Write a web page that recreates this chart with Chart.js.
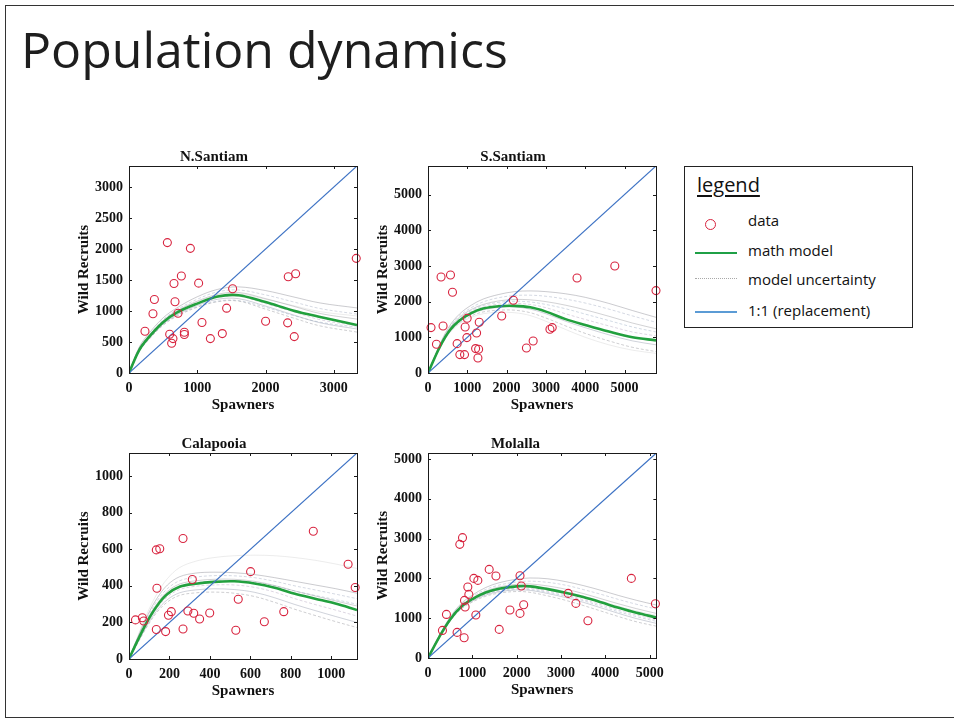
<!DOCTYPE html>
<html>
<head>
<meta charset="utf-8">
<script src="https://cdn.jsdelivr.net/npm/chart.js@4.4.0/dist/chart.umd.min.js"></script>
<style>
  html, body { margin:0; padding:0; background:#fff; width:954px; height:723px; overflow:hidden; position:relative; }
  #frame { position:absolute; left:5px; top:5px; width:980px; height:713px; box-sizing:border-box;
           border-left:1.5px solid #333; border-top:1.5px solid #333; border-bottom:1.5px solid #333; }
  #title { position:absolute; left:21px; top:15px; font-family:"Open Sans", sans-serif; font-size:50px;
           color:#1e1e1e; white-space:nowrap; line-height:normal; }
  #legend { position:absolute; left:684px; top:166px; width:229px; height:162px; box-sizing:border-box;
            border:1.5px solid #222; }
  .lt { position:absolute; font-family:"Open Sans", sans-serif; color:#111; white-space:nowrap; line-height:1; }
  .mk { position:absolute; }
</style>
</head>
<body>
<div id="frame"></div>
<div id="title">Population dynamics</div>

<div id="legend"></div>
<div class="lt" style="left:697px; top:175px; font-size:20px; text-decoration:underline; text-underline-offset:3px;">legend</div>
<div class="mk" style="left:705px; top:219px; width:9px; height:9px; border:1.3px solid #d8243f; border-radius:50%;"></div>
<div class="lt" style="left:748px; top:213px; font-size:15px;">data</div>
<div class="mk" style="left:695px; top:252px; width:42px; height:0; border-top:2.2px solid #1fa046;"></div>
<div class="lt" style="left:748px; top:243px; font-size:15px;">math model</div>
<div class="mk" style="left:695px; top:278px; width:42px; height:0; border-top:1px dotted #a8a8a8;"></div>
<div class="lt" style="left:748px; top:272px; font-size:15px;">model uncertainty</div>
<div class="mk" style="left:695px; top:311px; width:42px; height:0; border-top:2px solid #5b9bd5;"></div>
<div class="lt" style="left:748px; top:303px; font-size:15px;">1:1 (replacement)</div>

<script>
// ---------------- DATA ----------------
// N.Santiam
const nsSpawners = [562, 899, 3329, 2441, 2333, 767, 659, 1020, 1518, 372, 674, 351, 718, 1430, 1069, 2001, 2324, 234, 596, 811, 811, 644, 625, 1192, 1367, 2421];
const nsRecruits = [2104, 2011, 1850, 1602, 1553, 1564, 1445, 1450, 1359, 1186, 1149, 955, 965, 1046, 814, 835, 809, 673, 625, 657, 620, 555, 479, 555, 636, 587];
const nsModelX = [0, 150, 300, 500, 700, 1000, 1300, 1600, 2000, 2400, 2800, 3340];
const nsModel  = [0, 370, 590, 820, 975, 1120, 1235, 1255, 1145, 1010, 905, 775];
const nsUnc1 = [0, 420, 650, 890, 1050, 1230, 1350, 1390, 1330, 1230, 1130, 1050];
const nsUnc2 = [0, 400, 620, 860, 1020, 1190, 1310, 1340, 1260, 1150, 1040, 950];
const nsUnc3 = [0, 390, 605, 840, 1000, 1160, 1270, 1300, 1200, 1080, 960, 870];
const nsUnc4 = [0, 370, 580, 810, 960, 1120, 1220, 1240, 1120, 990, 860, 760];
const nsUnc5 = [0, 360, 565, 790, 940, 1090, 1190, 1200, 1080, 940, 810, 710];
const nsUnc6 = [0, 345, 550, 770, 915, 1060, 1150, 1160, 1030, 890, 760, 660];
const nsUnc7 = [0, 400, 615, 850, 1000, 1150, 1250, 1280, 1190, 1090, 990, 920];
const nsUnc8 = [0, 355, 560, 780, 930, 1070, 1160, 1170, 1060, 930, 820, 740];
const nsTicks = [0, 500, 1000, 1500, 2000, 2500, 3000];
const nsXTicks = [0, 1000, 2000, 3000];

// S.Santiam
const ssSpawners = [77, 332, 572, 623, 383, 215, 741, 810, 929, 996, 945, 989, 1303, 1236, 1211, 1288, 1270, 1875, 2172, 2504, 2675, 3102, 3160, 3791, 4752, 5800];
const ssRecruits = [1272, 2691, 2747, 2262, 1318, 804, 823, 515, 515, 1533, 1290, 992, 1421, 1121, 684, 664, 420, 1598, 2037, 701, 897, 1225, 1272, 2663, 3000, 2309];
const ssModelX = [0, 300, 550, 800, 1100, 1400, 1800, 2200, 2600, 3000, 3500, 4000, 4600, 5200, 5800];
const ssModel  = [0, 729, 1190, 1470, 1680, 1805, 1870, 1880, 1840, 1720, 1510, 1345, 1160, 1000, 915];
const ssUnc1 = [0, 800, 1320, 1650, 1900, 2070, 2200, 2280, 2300, 2280, 2220, 2120, 1950, 1750, 1560];
const ssUnc2 = [0, 780, 1280, 1600, 1830, 1990, 2110, 2170, 2180, 2150, 2070, 1960, 1790, 1600, 1420];
const ssUnc3 = [0, 760, 1250, 1560, 1780, 1920, 2020, 2060, 2050, 2000, 1900, 1770, 1590, 1400, 1240];
const ssUnc4 = [0, 740, 1210, 1500, 1720, 1850, 1930, 1950, 1920, 1830, 1660, 1500, 1320, 1150, 1040];
const ssUnc5 = [0, 715, 1170, 1450, 1650, 1770, 1840, 1850, 1790, 1660, 1450, 1270, 1070, 900, 790];
const ssUnc6 = [0, 700, 1140, 1410, 1600, 1710, 1760, 1760, 1690, 1540, 1320, 1110, 900, 720, 600];
const ssUnc7 = [0, 690, 1120, 1380, 1560, 1660, 1700, 1690, 1610, 1450, 1220, 1000, 790, 640, 550];
const ssUnc8 = [0, 750, 1230, 1530, 1750, 1890, 1980, 2010, 1990, 1920, 1800, 1650, 1470, 1290, 1150];
const ssTicks = [0, 1000, 2000, 3000, 4000, 5000];
const ssXTicks = [0, 1000, 2000, 3000, 4000, 5000];

// Calapooia
const caSpawners = [267, 135, 152, 911, 1083, 1118, 601, 313, 138, 540, 32, 66, 73, 209, 195, 291, 320, 349, 399, 135, 181, 267, 528, 669, 765];
const caRecruits = [659, 597, 603, 699, 518, 391, 478, 435, 387, 327, 214, 226, 208, 259, 239, 263, 250, 219, 252, 161, 150, 164, 157, 204, 259];
const caModelX = [0, 40, 90, 140, 190, 250, 330, 420, 520, 620, 720, 820, 920, 1020, 1127];
const caModel  = [0, 95, 205, 293, 355, 395, 412, 422, 425, 413, 390, 357, 330, 303, 268];
const caUnc1 = [0, 110, 235, 335, 405, 450, 470, 475, 472, 462, 445, 425, 405, 385, 360];
const caUnc2 = [0, 105, 225, 320, 385, 428, 448, 456, 455, 445, 425, 400, 378, 355, 330];
const caUnc3 = [0, 100, 215, 305, 370, 410, 428, 436, 436, 425, 402, 372, 345, 318, 290];
const caUnc4 = [0, 90, 195, 280, 340, 380, 398, 405, 405, 392, 366, 330, 298, 268, 235];
const caUnc5 = [0, 85, 185, 268, 325, 362, 378, 384, 380, 365, 335, 298, 265, 233, 200];
const caUnc6 = [0, 80, 178, 258, 312, 348, 362, 366, 360, 342, 310, 272, 238, 205, 172];
const caUnc7 = [0, 115, 250, 360, 440, 500, 535, 555, 565, 568, 565, 555, 540, 520, 495];
const caUnc8 = [0, 95, 205, 295, 360, 400, 418, 426, 428, 420, 400, 372, 348, 325, 300];
const caTicks = [0, 200, 400, 600, 800, 1000];
const caXTicks = [0, 200, 400, 600, 800, 1000];

// Molalla
const moSpawners = [778, 717, 1380, 1532, 1034, 1124, 2075, 4586, 898, 921, 823, 837, 2104, 3161, 3335, 5129, 416, 1079, 2158, 1848, 2075, 3606, 326, 656, 815, 1606];
const moRecruits = [3023, 2855, 2226, 2060, 2000, 1950, 2068, 2000, 1784, 1598, 1447, 1281, 1809, 1623, 1372, 1364, 1095, 1080, 1339, 1206, 1121, 937, 693, 643, 510, 719];
const moModelX = [0, 250, 500, 750, 1000, 1300, 1600, 2000, 2300, 2700, 3100, 3500, 3900, 4300, 4700, 5150];
const moModel  = [0, 520, 970, 1290, 1480, 1645, 1740, 1800, 1800, 1730, 1640, 1530, 1400, 1260, 1135, 1020];
const moUnc1 = [0, 560, 1030, 1370, 1580, 1770, 1890, 1980, 2010, 1990, 1920, 1820, 1700, 1570, 1450, 1330];
const moUnc2 = [0, 545, 1005, 1340, 1540, 1720, 1830, 1910, 1930, 1900, 1830, 1720, 1600, 1470, 1350, 1230];
const moUnc3 = [0, 535, 990, 1315, 1510, 1680, 1785, 1850, 1860, 1810, 1730, 1620, 1490, 1360, 1240, 1120];
const moUnc4 = [0, 510, 955, 1270, 1455, 1615, 1705, 1755, 1750, 1680, 1590, 1470, 1340, 1200, 1080, 960];
const moUnc5 = [0, 500, 940, 1250, 1430, 1580, 1665, 1710, 1700, 1620, 1520, 1400, 1260, 1120, 990, 870];
const moUnc6 = [0, 490, 925, 1230, 1405, 1550, 1630, 1670, 1650, 1560, 1450, 1320, 1180, 1040, 910, 800];
const moUnc7 = [0, 525, 975, 1300, 1490, 1655, 1755, 1815, 1820, 1760, 1670, 1560, 1430, 1300, 1180, 1070];
const moUnc8 = [0, 505, 950, 1260, 1445, 1600, 1685, 1730, 1720, 1650, 1555, 1440, 1300, 1160, 1040, 920];
const moTicks = [0, 1000, 2000, 3000, 4000, 5000];
const moXTicks = [0, 1000, 2000, 3000, 4000, 5000];

const panelNames = ['N.Santiam', 'S.Santiam', 'Calapooia', 'Molalla'];
const axisMax = [3340, 5800, 1127, 5150];
const xLabel = 'Spawners';
const yLabel = 'Wild Recruits';

// ---------------- DRAWING ----------------
const Y_W = 58, X_H = 42, TITLE_H = 20.2, PAD_R = 10;
const SERIF = '"Liberation Serif", "Times New Roman", serif';
const UNC_COLORS = ['rgba(110,110,120,0.45)', 'rgba(150,160,185,0.5)', 'rgba(90,90,100,0.35)',
                    'rgba(160,140,175,0.45)', 'rgba(120,130,150,0.45)', 'rgba(100,100,110,0.4)',
                    'rgba(175,175,175,0.3)', 'rgba(130,150,180,0.45)'];

const boxPlugin = {
  id: 'matlabBox',
  afterDatasetsDraw(chart) {
    const { ctx, chartArea: a, scales: { x, y } } = chart;
    ctx.save();
    ctx.strokeStyle = '#1a1a1a';
    ctx.lineWidth = 1;
    ctx.strokeRect(Math.round(a.left) + 0.5, Math.round(a.top) + 0.5,
                   Math.round(a.right - a.left), Math.round(a.bottom - a.top));
    ctx.beginPath();
    x.ticks.forEach(t => {
      const px = Math.round(x.getPixelForValue(t.value)) + 0.5;
      ctx.moveTo(px, a.bottom); ctx.lineTo(px, a.bottom - 3);
      ctx.moveTo(px, a.top); ctx.lineTo(px, a.top + 3);
    });
    y.ticks.forEach(t => {
      const py = Math.round(y.getPixelForValue(t.value)) + 0.5;
      ctx.moveTo(a.left, py); ctx.lineTo(a.left + 3, py);
      ctx.moveTo(a.right, py); ctx.lineTo(a.right - 3, py);
    });
    ctx.stroke();
    ctx.restore();
  }
};

function buildChart(p, W, H) {
  const canvas = document.createElement('canvas');
  canvas.width = W; canvas.height = H;
  canvas.style.position = 'absolute';
  canvas.style.width = W + 'px'; canvas.style.height = H + 'px';
  canvas.style.left = (p.box.l - Y_W) + 'px';
  canvas.style.top = (p.box.t - TITLE_H) + 'px';
  document.body.appendChild(canvas);

  const uncSets = p.unc.map((u, i) => ({
    type: 'line',
    data: p.modelX.map((x, j) => ({ x: x, y: u[j] })),
    borderColor: UNC_COLORS[i % UNC_COLORS.length],
    borderWidth: 0.8,
    borderDash: i % 2 ? [3, 2] : [],
    pointRadius: 0,
    tension: 0.35,
    clip: 0
  }));

  const tickFont = { family: SERIF, size: 14, weight: 'bold' };
  const titleFont = { family: SERIF, size: 15, weight: 'bold' };

  const chart = new Chart(canvas, {
    type: 'scatter',
    data: {
      datasets: [
        {
          type: 'scatter',
          data: p.sx.map((x, i) => ({ x: x, y: p.sy[i] })),
          pointStyle: 'circle', pointRadius: 4, pointBorderWidth: 1.1,
          pointBorderColor: '#d8243f', pointBackgroundColor: 'rgba(0,0,0,0)',
          borderColor: '#d8243f', backgroundColor: 'rgba(0,0,0,0)',
          clip: 8
        },
        {
          type: 'line',
          data: [{ x: 0, y: 0 }, { x: p.max, y: p.max }],
          borderColor: '#3d72c4', borderWidth: 1.2, pointRadius: 0, clip: 0
        },
        {
          type: 'line',
          data: p.modelX.map((x, j) => ({ x: x, y: p.model[j] })),
          borderColor: '#22a03e', borderWidth: 2.6, pointRadius: 0, tension: 0.35, clip: 0
        },
        ...uncSets
      ]
    },
    options: {
      responsive: false, maintainAspectRatio: false, animation: false, devicePixelRatio: 1,
      events: [],
      layout: { padding: { left: 0, right: PAD_R, top: 0, bottom: 0 } },
      plugins: {
        legend: { display: false }, tooltip: { enabled: false },
        title: { display: true, text: p.name, font: titleFont, color: '#111', padding: { top: 3, bottom: 0 } }
      },
      scales: {
        x: {
          type: 'linear', min: 0, max: p.max,
          grid: { display: false, drawTicks: false }, border: { display: false },
          afterBuildTicks(s) { s.ticks = p.xticks.map(v => ({ value: v })); },
          ticks: { autoSkip: false, maxRotation: 0, callback: v => String(v),
                   font: tickFont, color: '#111', padding: 7 },
          title: { display: true, text: xLabel, font: titleFont, color: '#111', padding: { top: 0, bottom: 1 } },
          afterFit(s) { s.height = X_H; }
        },
        y: {
          type: 'linear', min: 0, max: p.max,
          grid: { display: false, drawTicks: false }, border: { display: false },
          afterBuildTicks(s) { s.ticks = p.yticks.map(v => ({ value: v })); },
          ticks: { autoSkip: false, callback: v => String(v),
                   font: tickFont, color: '#111', padding: 6 },
          title: { display: true, text: yLabel, font: titleFont, color: '#111', padding: { top: 4, bottom: 0 } },
          afterFit(s) { s.width = Y_W; }
        }
      }
    },
    plugins: [boxPlugin]
  });
  return { chart, canvas };
}

function makePanel(p) {
  let W = Y_W + p.box.w + PAD_R, H = TITLE_H + p.box.h + X_H;
  let r = buildChart(p, W, H);
  let a = r.chart.chartArea;
  const dw = p.box.w - (a.right - a.left), dh = p.box.h - (a.bottom - a.top);
  if (Math.abs(dw) > 0.5 || Math.abs(dh) > 0.5) {
    r.chart.destroy(); r.canvas.remove();
    r = buildChart(p, Math.round(W + dw), Math.round(H + dh));
    a = r.chart.chartArea;
  }
  r.canvas.style.left = (p.box.l - a.left) + 'px';
  r.canvas.style.top = (p.box.t - a.top) + 'px';
}

makePanel({ name: panelNames[0], box: { l: 129, t: 166, w: 228, h: 207 }, max: axisMax[0], xticks: nsXTicks, yticks: nsTicks,
  sx: nsSpawners, sy: nsRecruits, modelX: nsModelX, model: nsModel,
  unc: [nsUnc1, nsUnc2, nsUnc3, nsUnc4, nsUnc5, nsUnc6, nsUnc7, nsUnc8] });
makePanel({ name: panelNames[1], box: { l: 428, t: 166, w: 228, h: 207 }, max: axisMax[1], xticks: ssXTicks, yticks: ssTicks,
  sx: ssSpawners, sy: ssRecruits, modelX: ssModelX, model: ssModel,
  unc: [ssUnc1, ssUnc2, ssUnc3, ssUnc4, ssUnc5, ssUnc6, ssUnc7, ssUnc8] });
makePanel({ name: panelNames[2], box: { l: 129, t: 453, w: 228, h: 206 }, max: axisMax[2], xticks: caXTicks, yticks: caTicks,
  sx: caSpawners, sy: caRecruits, modelX: caModelX, model: caModel,
  unc: [caUnc1, caUnc2, caUnc3, caUnc4, caUnc5, caUnc6, caUnc7, caUnc8] });
makePanel({ name: panelNames[3], box: { l: 428, t: 453, w: 228, h: 205 }, max: axisMax[3], xticks: moXTicks, yticks: moTicks,
  sx: moSpawners, sy: moRecruits, modelX: moModelX, model: moModel,
  unc: [moUnc1, moUnc2, moUnc3, moUnc4, moUnc5, moUnc6, moUnc7, moUnc8] });
</script>
</body>
</html>
